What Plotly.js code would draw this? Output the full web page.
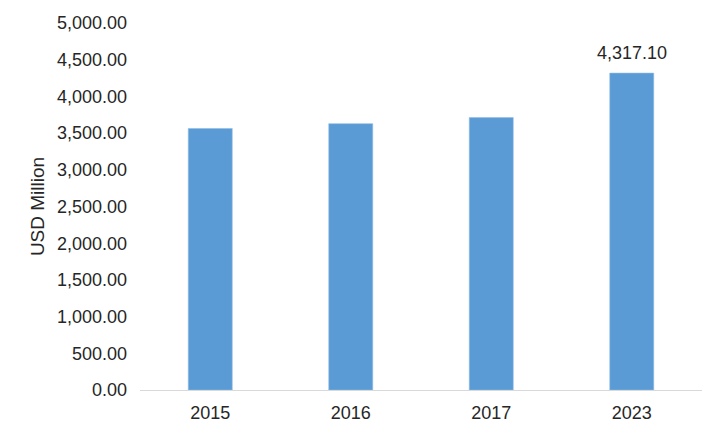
<!DOCTYPE html>
<html>
<head>
<meta charset="utf-8">
<script src="https://cdn.plot.ly/plotly-3.0.1.min.js"></script>
<style>
  html, body { margin: 0; padding: 0; background: #fff; }
  #chart { width: 725px; height: 435px; }
</style>
</head>
<body>
<div id="chart"></div>
<script>
/* ─── Data ─────────────────────────────────────────────────────────────── */
const years = ["2015", "2016", "2017", "2023"];
const marketSize = [3563, 3629, 3711, 4317.10];
const labelledYear = "2023";
const yTicks = [0, 500, 1000, 1500, 2000, 2500, 3000, 3500, 4000, 4500, 5000];

const FONT = "Liberation Sans, Arial, sans-serif";
const TXT = "#262626";

const fmt2 = v => v.toLocaleString("en-US", { minimumFractionDigits: 2, maximumFractionDigits: 2 });

const trace = {
  type: "bar",
  x: years,
  y: marketSize,
  marker: { color: "#5B9BD5", line: { color: "#8FBCE6", width: 0.6 } },
  hoverinfo: "x+y",
};

// annotation goes on the category index, not the "2023" string
const idx = years.indexOf(labelledYear);

const layout = {
  width: 725, height: 435,
  paper_bgcolor: "#fff", plot_bgcolor: "#fff",
  margin: { l: 140, r: 23, t: 23, b: 45, autoexpand: false },
  font: { family: FONT, size: 18, color: TXT },
  bargap: 0.687,
  showlegend: false,
  xaxis: {
    type: "category",
    range: [-0.5, years.length - 0.5],
    showgrid: false, zeroline: false,
    showline: true, linecolor: "#D9D9D9", linewidth: 1.3,
    ticks: "", ticklabelstandoff: 6,
    tickfont: { family: FONT, size: 18, color: TXT },
  },
  yaxis: {
    range: [0, 5000],
    tickvals: yTicks,
    ticktext: yTicks.map(fmt2),
    showgrid: false, zeroline: false, showline: false,
    ticks: "", ticklabelstandoff: 12,
    tickfont: { family: FONT, size: 18, color: TXT },
    title: { text: "USD Million", standoff: 7, font: { family: FONT, size: 19, color: TXT } },
  },
  annotations: [{
    x: idx, y: marketSize[idx], xref: "x", yref: "y",
    text: fmt2(marketSize[idx]),
    showarrow: false, yanchor: "bottom", yshift: 8,
    font: { family: FONT, size: 18, color: TXT },
  }],
};

Plotly.newPlot("chart", [trace], layout, { displayModeBar: false, staticPlot: true });
</script>
</body>
</html>
